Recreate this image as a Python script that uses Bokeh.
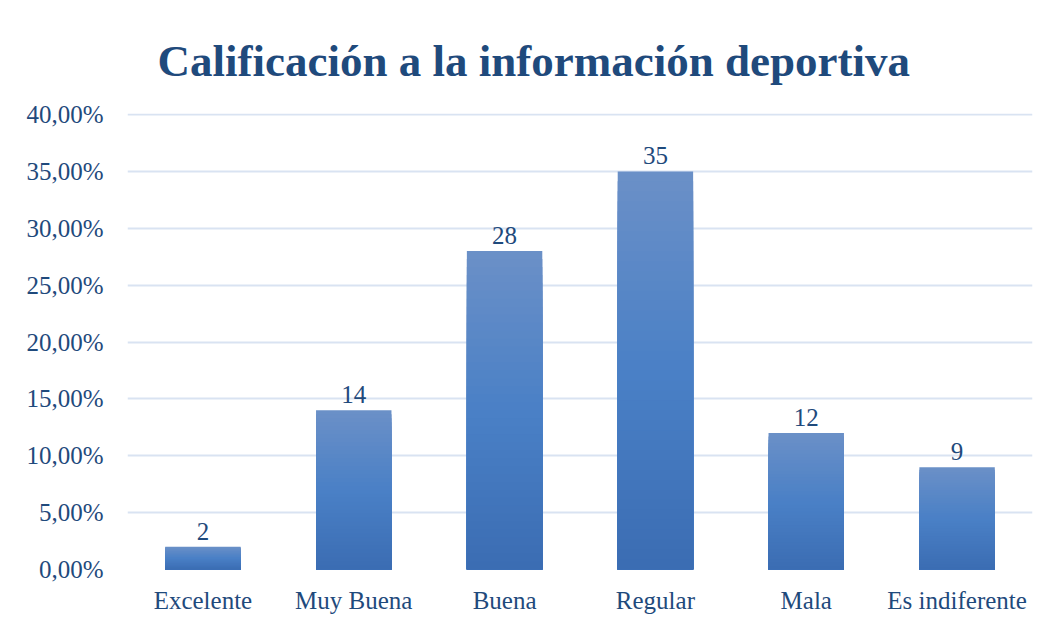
from bokeh.plotting import figure
from bokeh.models import ColumnDataSource, FixedTicker, LabelSet, Range1d
from bokeh.embed import file_html
from bokeh.resources import INLINE

categories = ["Excelente", "Muy Buena", "Buena", "Regular", "Mala", "Es indiferente"]
values = [2, 14, 28, 35, 12, 9]
tick_values = [0, 5, 10, 15, 20, 25, 30, 35, 40]
tick_labels = ["0,00%", "5,00%", "10,00%", "15,00%", "20,00%", "25,00%", "30,00%", "35,00%", "40,00%"]
title_text = "Calificación a la información deportiva"

FONT = "Liberation Serif"
TXT = "#1f4a7c"

p = figure(width=1040, height=616, x_range=categories, y_range=Range1d(0, 40.09),
           output_backend="svg", toolbar_location=None,
           min_border_left=127, min_border_right=8, min_border_top=113, min_border_bottom=46)

# gradient bars: layered bars (largest first) whose colour follows the height fraction
stops = [(0.0, (0x3b, 0x6d, 0xb3)), (0.5, (0x4a, 0x80, 0xc6)), (1.0, (0x6b, 0x90, 0xc7))]
def grad(t):
    for (t0, c0), (t1, c1) in zip(stops[:-1], stops[1:]):
        if t <= t1:
            f = (t - t0) / (t1 - t0)
            return "#%02x%02x%02x" % tuple(int(round(a + (b - a) * f)) for a, b in zip(c0, c1))
    return "#%02x%02x%02x" % stops[-1][1]

n = 40
xs, tops, cols = [], [], []
for k in range(n - 1, -1, -1):
    for c, v in zip(categories, values):
        xs.append(c)
        tops.append(v * (k + 1) / n)
        cols.append(grad((k + 0.5) / n))
src = ColumnDataSource(dict(x=xs, top=tops, color=cols))
p.vbar(x="x", bottom=0, top="top", width=0.5, source=src,
       fill_color="color", line_color=None)

lab = ColumnDataSource(dict(x=categories, y=values, t=[str(v) for v in values]))
p.add_layout(LabelSet(x="x", y="y", text="t", source=lab, text_align="center",
                      text_baseline="bottom", y_offset=7, text_font=FONT,
                      text_font_size="25px", text_color=TXT))

p.title.text = title_text
p.title.align = "left"
p.title.text_font = FONT
p.title.text_font_style = "bold"
p.title.text_font_size = "45px"
p.title.text_color = "#1f4a7c"
p.title.offset = 30
p.title.standoff = 55

p.yaxis.ticker = FixedTicker(ticks=tick_values)
p.yaxis.major_label_overrides = {v: l for v, l in zip(tick_values, tick_labels)}
for ax in (p.xaxis, p.yaxis):
    ax.axis_line_color = None
    ax.major_tick_line_color = None
    ax.minor_tick_line_color = None
    ax.major_label_text_font = FONT
    ax.major_label_text_font_size = "25px"
    ax.major_label_text_color = TXT
p.yaxis.major_label_standoff = 18
p.xaxis.major_label_standoff = 11

p.xgrid.grid_line_color = None
p.ygrid.grid_line_color = "#d9e3f2"
p.ygrid.grid_line_width = 2
p.ygrid.ticker = FixedTicker(ticks=tick_values)
p.outline_line_color = None
p.x_range.range_padding = 0

open("out.html", "w").write(file_html(p, INLINE))
